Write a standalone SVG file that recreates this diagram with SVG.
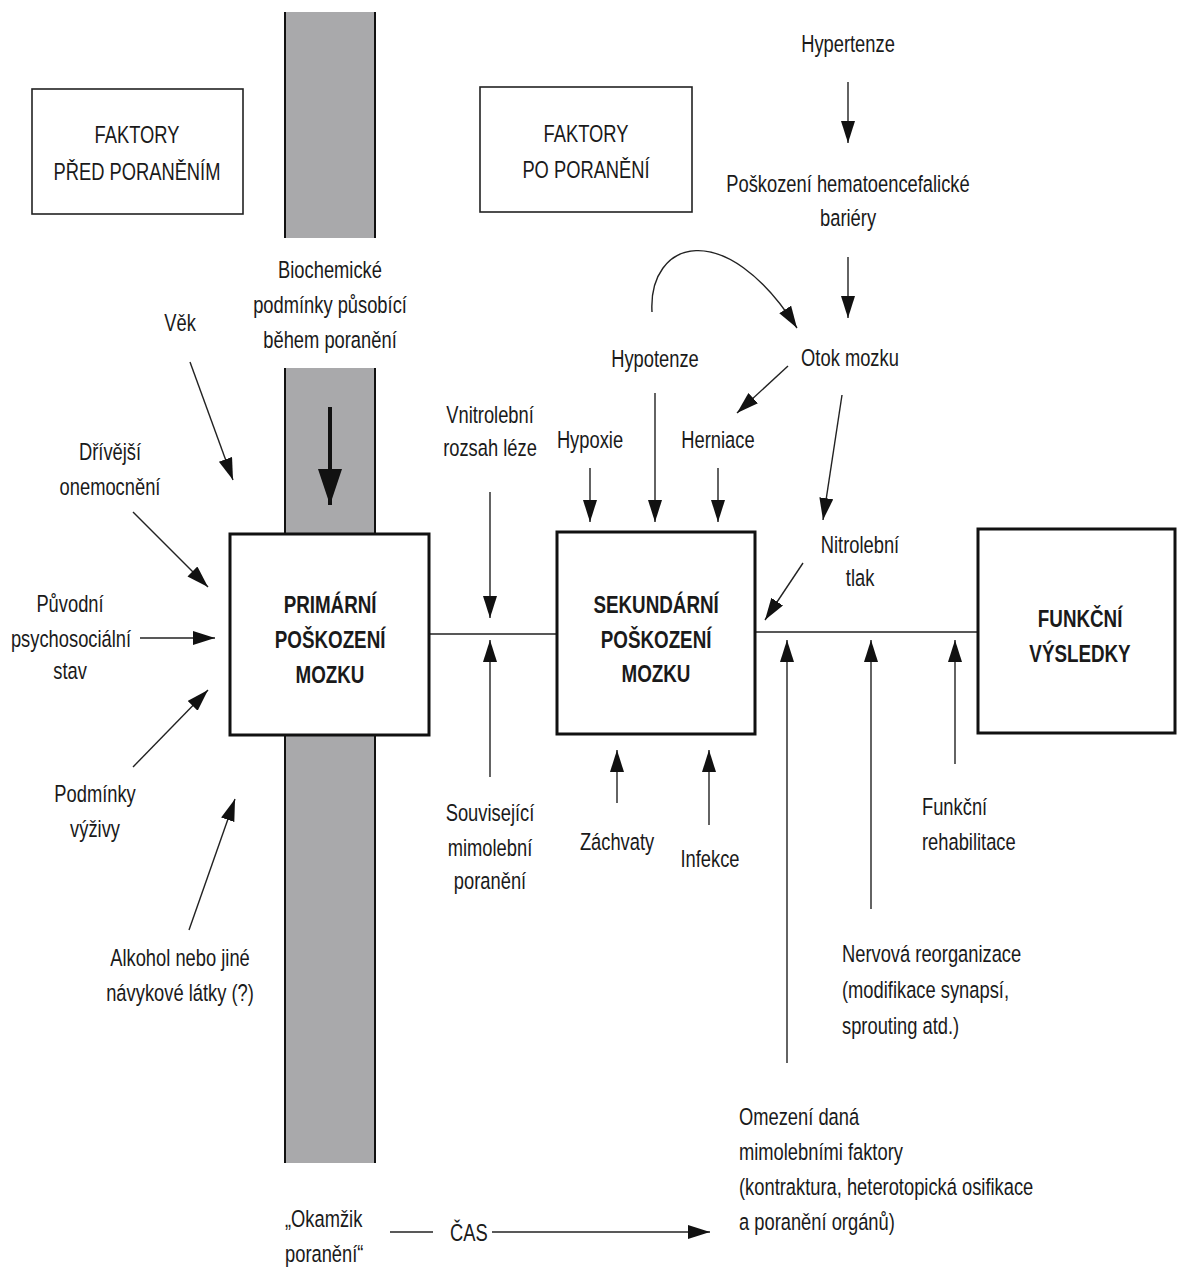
<svg xmlns="http://www.w3.org/2000/svg" width="1177" height="1268" viewBox="0 0 1177 1268">
<style>
.t{font-family:"Liberation Sans Narrow","Liberation Sans",Arial,sans-serif;font-size:23.5px;fill:#1a1a1a;text-anchor:middle;transform-box:fill-box;transform-origin:center;transform:scaleX(0.78)}
.st{text-anchor:start;transform-origin:left center}
.b{font-weight:bold;transform:scaleX(0.8)}
.ln{stroke:#222;stroke-width:1.4;fill:none}
.box{fill:#fff;stroke:#111;stroke-width:3}
.fbox{fill:#fff;stroke:#222;stroke-width:1.6}
.band{fill:#a9a9ab}
.edge{stroke:#111;stroke-width:2}
</style>
<defs>
<marker id="ah" markerUnits="userSpaceOnUse" markerWidth="24" markerHeight="16" refX="22" refY="7" orient="auto"><path d="M0,0 L22,7 L0,14 z" fill="#111"/></marker>
<marker id="bh" markerUnits="userSpaceOnUse" markerWidth="38" markerHeight="26" refX="36" refY="12" orient="auto"><path d="M0,0 L36,12 L0,24 z" fill="#111"/></marker>
</defs>
<rect width="1177" height="1268" fill="#fff"/>
<g id="band">
<rect class="band" x="285" y="12" width="90" height="226"/>
<rect class="band" x="285" y="368" width="90" height="166"/>
<rect class="band" x="285" y="735" width="90" height="428"/>
<path class="edge" d="M285,12V238M375,12V238M285,368V534M375,368V534M285,735V1163M375,735V1163"/>
<text class="t" x="330" y="278">Biochemické</text>
<text class="t" x="330" y="313">podmínky působící</text>
<text class="t" x="330" y="348">během poranění</text>
</g>
<g id="connectors">
<path class="ln" d="M429,634H557M755,632H978"/>
<path class="ln" marker-end="url(#ah)" d="M848,82V143"/>
<path class="ln" marker-end="url(#ah)" d="M848,257V318"/>
<path class="ln" marker-end="url(#ah)" d="M652,312C648,240 725,215 797,328"/>
<path class="ln" marker-end="url(#ah)" d="M788,366L737,413"/>
<path class="ln" marker-end="url(#ah)" d="M842,395L823,520"/>
<path class="ln" marker-end="url(#ah)" d="M803,563L765,620"/>
<path class="ln" marker-end="url(#ah)" d="M655,393V522"/>
<path class="ln" marker-end="url(#ah)" d="M590,468V522"/>
<path class="ln" marker-end="url(#ah)" d="M718,468V522"/>
<path class="ln" marker-end="url(#ah)" d="M490,492V618"/>
<path class="ln" marker-end="url(#ah)" d="M490,777V640"/>
<path class="ln" marker-end="url(#ah)" d="M617,803V750"/>
<path class="ln" marker-end="url(#ah)" d="M709,825V750"/>
<path class="ln" marker-end="url(#ah)" d="M787,1063V640"/>
<path class="ln" marker-end="url(#ah)" d="M871,909V640"/>
<path class="ln" marker-end="url(#ah)" d="M955,764V640"/>
<path class="ln" marker-end="url(#ah)" d="M190,362L233,480"/>
<path class="ln" marker-end="url(#ah)" d="M133,512L208,587"/>
<path class="ln" marker-end="url(#ah)" d="M140,638H215"/>
<path class="ln" marker-end="url(#ah)" d="M133,767L208,690"/>
<path class="ln" marker-end="url(#ah)" d="M189,930L235,799"/>
<path class="ln" d="M390,1232H433"/>
<path class="ln" marker-end="url(#ah)" d="M492,1232H710"/>
<path stroke="#111" stroke-width="4" fill="none" marker-end="url(#bh)" d="M330,407V505"/>
</g>
<g id="n-pred">
<rect class="fbox" x="32" y="89" width="211" height="125"/>
<text class="t" x="137" y="143">FAKTORY</text>
<text class="t" x="137" y="180">PŘED PORANĚNÍM</text>
</g>
<g id="n-po">
<rect class="fbox" x="480" y="87" width="212" height="125"/>
<text class="t" x="586" y="142">FAKTORY</text>
<text class="t" x="586" y="178">PO PORANĚNÍ</text>
</g>
<g id="n-primarni">
<rect class="box" x="230" y="534" width="199" height="201"/>
<text class="t b" x="330" y="613">PRIMÁRNÍ</text>
<text class="t b" x="330" y="648">POŠKOZENÍ</text>
<text class="t b" x="330" y="683">MOZKU</text>
</g>
<g id="n-sekundarni">
<rect class="box" x="557" y="532" width="198" height="202"/>
<text class="t b" x="656" y="613">SEKUNDÁRNÍ</text>
<text class="t b" x="656" y="648">POŠKOZENÍ</text>
<text class="t b" x="656" y="682">MOZKU</text>
</g>
<g id="n-funkcni">
<rect class="box" x="978" y="529" width="197" height="204"/>
<text class="t b" x="1080" y="627">FUNKČNÍ</text>
<text class="t b" x="1080" y="662">VÝSLEDKY</text>
</g>
<g id="n-hypertenze"><text class="t" x="848" y="52">Hypertenze</text></g>
<g id="n-bariery"><text class="t" x="848" y="192">Poškození hematoencefalické</text><text class="t" x="848" y="226">bariéry</text></g>
<g id="n-otok"><text class="t" x="850" y="366">Otok mozku</text></g>
<g id="n-hypotenze"><text class="t" x="655" y="367">Hypotenze</text></g>
<g id="n-hypoxie"><text class="t" x="590" y="448">Hypoxie</text></g>
<g id="n-herniace"><text class="t" x="718" y="448">Herniace</text></g>
<g id="n-vnitrolebni"><text class="t" x="490" y="423">Vnitrolební</text><text class="t" x="490" y="456">rozsah léze</text></g>
<g id="n-nitrolebni"><text class="t" x="860" y="553">Nitrolební</text><text class="t" x="860" y="586">tlak</text></g>
<g id="n-vek"><text class="t" x="180" y="331">Věk</text></g>
<g id="n-drivejsi"><text class="t" x="110" y="460">Dřívější</text><text class="t" x="110" y="495">onemocnění</text></g>
<g id="n-puvodni"><text class="t" x="70" y="612">Původní</text><text class="t" x="71" y="647">psychosociální</text><text class="t" x="70" y="679">stav</text></g>
<g id="n-podminky"><text class="t" x="95" y="802">Podmínky</text><text class="t" x="95" y="837">výživy</text></g>
<g id="n-alkohol"><text class="t" x="180" y="966">Alkohol nebo jiné</text><text class="t" x="180" y="1001">návykové látky (?)</text></g>
<g id="n-souvisejici"><text class="t" x="490" y="821">Související</text><text class="t" x="490" y="856">mimolební</text><text class="t" x="490" y="889">poranění</text></g>
<g id="n-zachvaty"><text class="t" x="617" y="850">Záchvaty</text></g>
<g id="n-infekce"><text class="t" x="710" y="867">Infekce</text></g>
<g id="n-rehab"><text class="t st" x="922" y="815">Funkční</text><text class="t st" x="922" y="850">rehabilitace</text></g>
<g id="n-nervova"><text class="t st" x="842" y="962">Nervová reorganizace</text><text class="t st" x="842" y="998">(modifikace synapsí,</text><text class="t st" x="842" y="1034">sprouting atd.)</text></g>
<g id="n-omezeni"><text class="t st" x="739" y="1125">Omezení daná</text><text class="t st" x="739" y="1160">mimolebními faktory</text><text class="t st" x="739" y="1195">(kontraktura, heterotopická osifikace</text><text class="t st" x="739" y="1230">a poranění orgánů)</text></g>
<g id="n-cas"><text class="t st" x="285" y="1227">„Okamžik</text><text class="t st" x="285" y="1262">poranění“</text><text class="t st" x="450" y="1241">ČAS</text></g>
</svg>
